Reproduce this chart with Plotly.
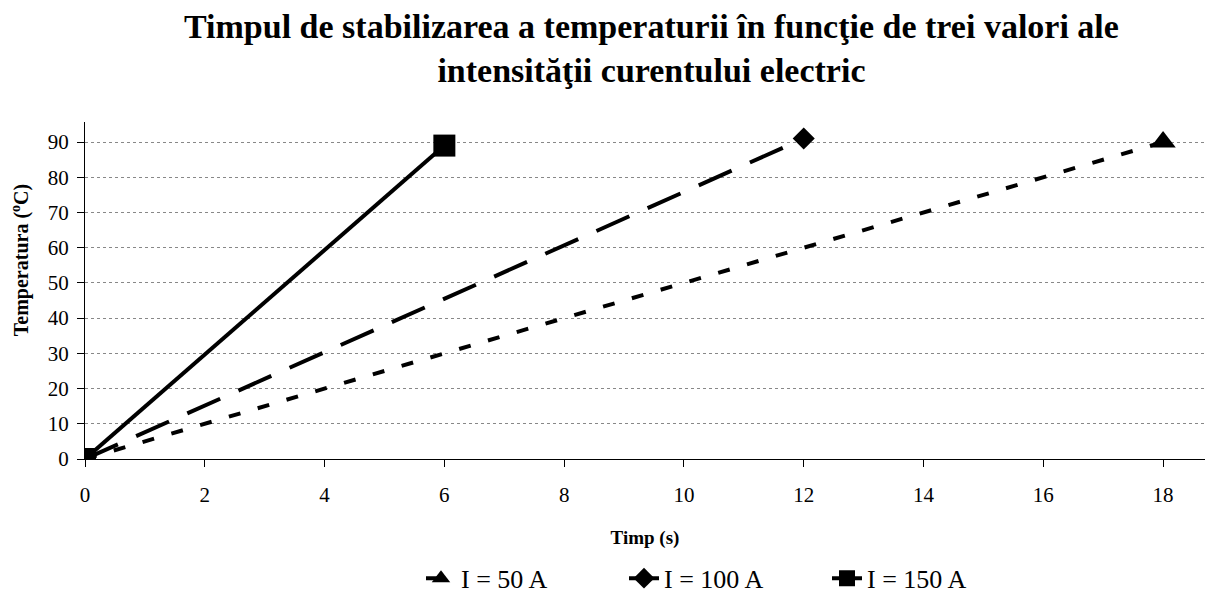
import plotly.graph_objects as go

# Date
timp_50 = [0, 18]
temp_50 = [0, 90]
timp_100 = [0, 12]
temp_100 = [0, 91]
timp_150 = [0, 6]
temp_150 = [0, 89]

titlu = "<b>Timpul de stabilizarea a temperaturii în funcţie de trei valori ale<br>intensităţii curentului electric</b>"

fig = go.Figure()

fig.add_trace(go.Scatter(x=timp_50, y=temp_50, mode="lines+markers", name="I = 50 A",
                         line=dict(color="black", width=4, dash="12px,18px"),
                         marker=dict(symbol="triangle-up", size=22, color="black")))
fig.add_trace(go.Scatter(x=timp_100, y=temp_100, mode="lines+markers", name="I = 100 A",
                         line=dict(color="black", width=4, dash="36px,20px"),
                         marker=dict(symbol="diamond", size=17, color="black")))
fig.add_trace(go.Scatter(x=timp_150, y=temp_150, mode="lines+markers", name="I = 150 A",
                         line=dict(color="black", width=4),
                         marker=dict(symbol="square", size=22, color="black")))

# pagina are 8px margine in body, deci marginile sunt corectate
fig.update_layout(
    width=1218, height=599,
    paper_bgcolor="white", plot_bgcolor="white",
    font=dict(family="Liberation Serif, Times New Roman, serif", color="black", size=21),
    margin=dict(l=77, r=21, t=114, b=148),
    legend=dict(orientation="h", x=0.30, xanchor="left", yref="container", y=0.048, yanchor="middle",
                font=dict(size=26), entrywidth=158),
    showlegend=True,
)

fig.update_xaxes(range=[0, 18.7], tickvals=list(range(0, 19, 2)), showline=True,
                 linecolor="black", linewidth=1, ticks="outside", ticklen=7, tickcolor="black",
                 ticklabelstandoff=10,
                 showgrid=False, zeroline=False, automargin=False,
                 title=dict(text="<b>Timp (s)</b>", font=dict(size=19), standoff=24))
fig.update_yaxes(range=[0, 95.7], tickvals=list(range(0, 91, 10)), showline=True,
                 linecolor="black", linewidth=1, ticks="outside", ticklen=7, tickcolor="black",
                 ticklabelstandoff=4,
                 showgrid=True, gridcolor="#888888", griddash="dot", gridwidth=1,
                 zeroline=False, automargin=False)

# titlul graficului ca adnotare (doua randuri)
fig.add_annotation(text=titlu, xref="paper", yref="paper", x=0.506, y=1, yshift=74,
                   xanchor="center", yanchor="middle", showarrow=False,
                   font=dict(size=34))

# titlul axei Y ca adnotare, ca sa fie mai aproape de margine
fig.add_annotation(text="<b>Temperatura (<sup>o</sup>C)</b>", textangle=-90,
                   xref="paper", yref="paper", x=0, y=0.59, xshift=-65,
                   xanchor="center", yanchor="middle", showarrow=False,
                   font=dict(size=20))

fig.write_html("out.html")
